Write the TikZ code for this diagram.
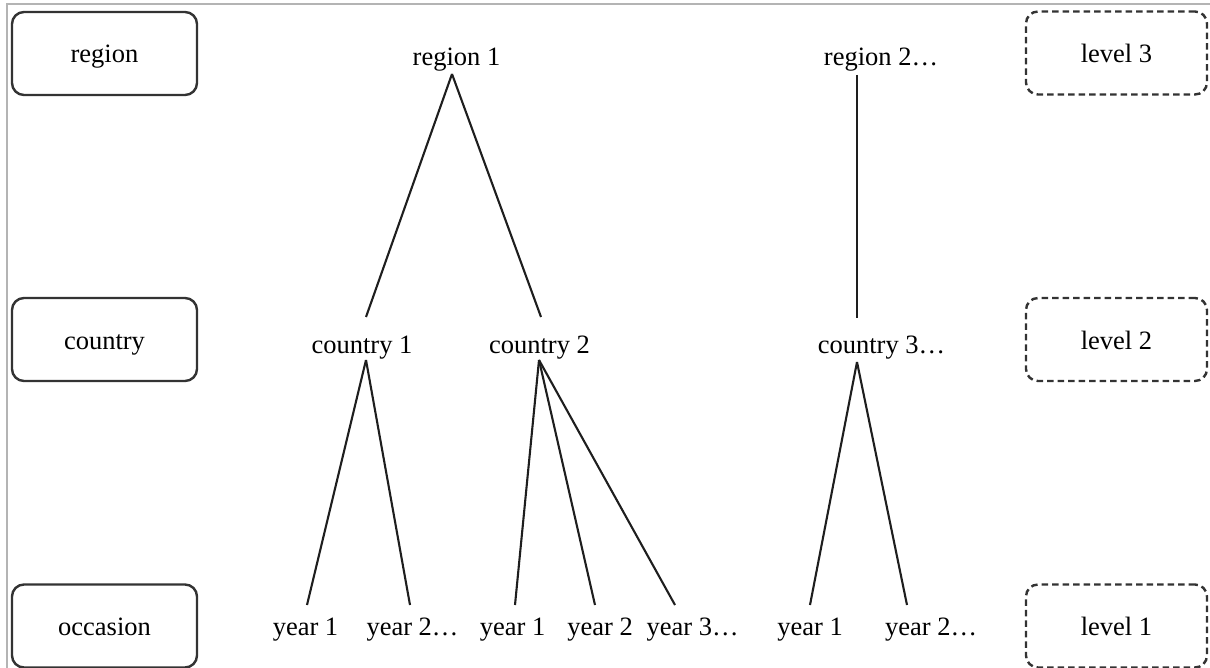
\documentclass[tikz,border=0pt]{standalone}
\usepackage{fontspec}
\setmainfont{Liberation Serif}
\usetikzlibrary{calc}
\definecolor{framegray}{HTML}{B4B4B4}
\definecolor{boxgray}{HTML}{333333}
\definecolor{linegray}{HTML}{1E1E1E}
\begin{document}
\begin{tikzpicture}[x=1pt,y=-1pt,
  txt/.style={font=\fontsize{26.5}{30}\selectfont},
  lbl/.style={txt, inner sep=0pt, anchor=base},
  catbox/.style={txt, draw=boxgray, line width=2.4pt, rounded corners=12pt,
    minimum width=185pt, minimum height=83pt, inner sep=0pt,
    text height=22pt, text depth=3pt},
  lvlbox/.style={catbox, minimum width=181pt, dash pattern=on 6.5pt off 4pt},
  edge/.style={draw=linegray, line width=2.1pt}]
\useasboundingbox (0,0) rectangle (1210,668);

% outer frame (top and left edges)
\draw[framegray, line width=1.5pt] (7,668) -- (7,4) -- (1210,4);

% category boxes on the left
\node[catbox] (cregion)   at (104.5,53.5)  {region};
\node[catbox] (ccountry)  at (104.5,339.5) {country};
\node[catbox] (coccasion) at (104.5,626)   {occasion};

% level boxes on the right
\node[lvlbox] (lv3) at (1116.5,53)    {level 3};
\node[lvlbox] (lv2) at (1116.5,339.5) {level 2};
\node[lvlbox] (lv1) at (1116.5,626)   {level 1};

% tree labels
\node[lbl] (r1) at (456.5,66) {region 1};
\node[lbl] (r2) at (881,66)   {region 2\ldots};
\node[lbl] (c1) at (362,353)  {country 1};
\node[lbl] (c2) at (539.5,353){country 2};
\node[lbl] (c3) at (881.5,353){country 3\ldots};
\node[lbl] (y11) at (305.5,635) {year 1};
\node[lbl] (y12) at (412.5,635) {year 2\ldots};
\node[lbl] (y21) at (512.5,635) {year 1};
\node[lbl] (y22) at (600,635)   {year 2};
\node[lbl] (y23) at (692.5,635) {year 3\ldots};
\node[lbl] (y31) at (810,635)   {year 1};
\node[lbl] (y32) at (931,635)   {year 2\ldots};

% region -> country
\draw[edge] ($(r1.base)+(-4.5,8)$) -- ($(c1.base)+(4,-36)$);
\draw[edge] ($(r1.base)+(-4.5,8)$) -- ($(c2.base)+(1.5,-36)$);
\draw[edge] ($(r2.base)+(-24,9)$)  -- ($(c3.base)+(-24.5,-35)$);

% country -> year
\draw[edge] ($(c1.base)+(4,7)$)    -- ($(y11.base)+(1.5,-30)$);
\draw[edge] ($(c1.base)+(4,7)$)    -- ($(y12.base)+(-2.5,-30)$);
\draw[edge] ($(c2.base)+(-0.5,7)$) -- ($(y21.base)+(2.5,-30)$);
\draw[edge] ($(c2.base)+(-0.5,7)$) -- ($(y22.base)+(-5,-30)$);
\draw[edge] ($(c2.base)+(-0.5,7)$) -- ($(y23.base)+(-17.5,-30)$);
\draw[edge] ($(c3.base)+(-24.5,9)$) -- ($(y31.base)+(0,-30)$);
\draw[edge] ($(c3.base)+(-24.5,9)$) -- ($(y32.base)+(-24,-30)$);
\end{tikzpicture}
\end{document}
